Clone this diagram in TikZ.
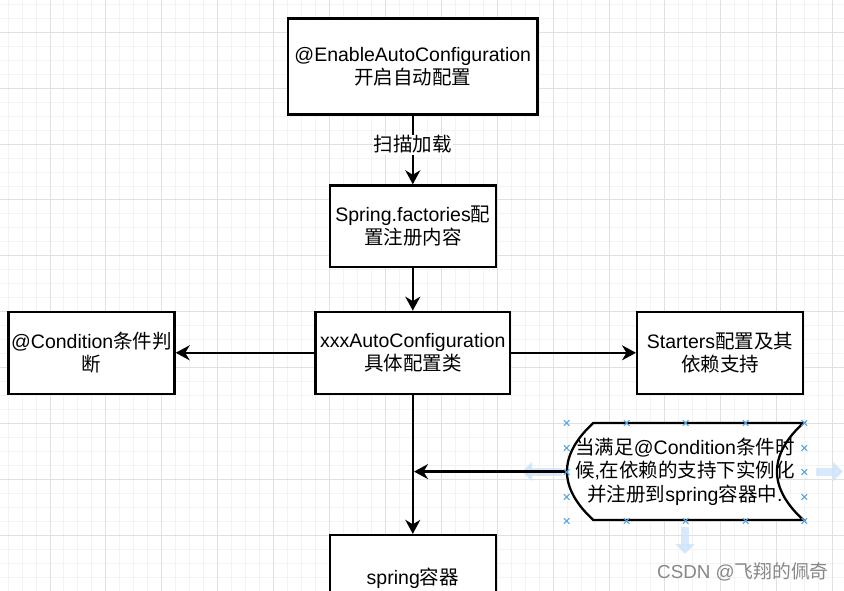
\documentclass[tikz,border=0pt]{standalone}
\usepackage{fontspec}
\setmainfont{Liberation Sans}
\newfontfamily\cjk{Noto Sans CJK SC}
\usetikzlibrary{arrows.meta}
\definecolor{minorgrid}{RGB}{243,243,243}
\definecolor{majorgrid}{RGB}{224,224,224}
\definecolor{handle}{RGB}{80,165,230}
\definecolor{hoverblue}{RGB}{205,228,250}
\definecolor{wmgray}{RGB}{135,135,135}
\tikzset{
  box/.style={draw=black, line width=2.3pt, fill=white, align=center, inner sep=2pt,
    font=\fontsize{19.5}{23.4}\selectfont},
  txt/.style={align=center, inner sep=0pt, font=\fontsize{19.5}{23.4}\selectfont},
  conn/.style={line width=2.3pt, -{Stealth[length=14pt,width=15pt,inset=4.5pt]}},
  lbl/.style={fill=white, inner sep=1pt, font=\fontsize{19.5}{23.4}\selectfont},
  hoverarrow/.style={line width=8pt, draw=hoverblue, opacity=0.8, -{Triangle[length=10pt,width=19pt]}},
  handlemark/.style={draw=handle, line width=1.1pt},
  wmk/.style={text=wmgray, inner sep=0pt, font=\fontsize{18.8}{22}\selectfont}
}
\begin{document}
\begin{tikzpicture}[x=1pt,y=-1pt]
\useasboundingbox (0,0) rectangle (844,591);
\clip (0,0) rectangle (844,591);
\fill[white] (0,0) rectangle (844,591);
% grid
\foreach \i in {0,...,64} {
  \draw[minorgrid, line width=1pt] (-5.9+13.975*\i,0) -- (-5.9+13.975*\i,591);
}
\foreach \j in {0,...,45} {
  \draw[minorgrid, line width=1pt] (0,-23.6+13.975*\j) -- (844,-23.6+13.975*\j);
}
\foreach \i in {0,...,16} {
  \draw[majorgrid, line width=1pt] (-5.9+55.9*\i,0) -- (-5.9+55.9*\i,591);
}
\foreach \j in {0,...,11} {
  \draw[majorgrid, line width=1pt] (0,-23.6+55.9*\j) -- (844,-23.6+55.9*\j);
}
% hover arrows
\draw[hoverarrow] (685,527) -- (685,554);
\draw[hoverarrow] (816,471.6) -- (843,471.6);
\draw[hoverarrow] (562,471.6) -- (522,471.6);

% boxes
\node[box, minimum width=249.3pt, minimum height=96.1pt] (top) at (412.8,66.5)
  {@EnableAutoConfiguration\\{\cjk 开启自动配置}};
\node[box, minimum width=166.1pt, minimum height=81.7pt] (sf) at (412.8,226.3)
  {Spring.factories{\cjk 配}\\{\cjk 置注册内容}};
\node[box, minimum width=194.7pt, minimum height=82pt] (xxx) at (412.8,352.8)
  {xxxAutoConfiguration\\{\cjk 具体配置类}};
\node[box, minimum width=166.1pt, minimum height=82pt] (cond) at (91.5,352.8)
  {@Condition{\cjk 条件判}\\{\cjk 断}};
\node[box, minimum width=165.7pt, minimum height=82pt] (start) at (720,352.8)
  {Starters{\cjk 配置及其}\\{\cjk 依赖支持}};
\node[box, minimum width=166.1pt, minimum height=86pt] (spring) at (412.8,578)
  {spring{\cjk 容器}};

% tape shape
\draw[line width=2.3pt, fill=white]
  (593.3,423) -- (803.3,423)
  .. controls (768.2,455.3) and (768.2,487.7) .. (803.3,520)
  -- (593.3,520)
  .. controls (558.2,487.7) and (558.2,455.3) .. (593.3,423) -- cycle;
\node[txt] (tape) at (685,471.6)
  {{\cjk 当满足}@Condition{\cjk 条件时}\\{\cjk 候},{\cjk 在依赖的支持下实例化}\\{\cjk 并注册到}spring{\cjk 容器中}.};
\coordinate (tapeW) at (567,471.6);
\coordinate (join) at (414,471.6);

% connectors
\draw[conn] (top) -- node[lbl, pos=0.42] (scan) {\cjk 扫描加载} (sf);
\draw[conn] (sf) -- (xxx);
\draw[conn] (xxx) -- (cond);
\draw[conn] (xxx) -- (start);
\draw[conn] (xxx) -- (spring);
\draw[conn] (tapeW) -- (join);

% selection handles
\foreach \x/\y in {566.7/423, 626.7/423, 685.7/423, 745.7/423, 804.3/423,
                   566.7/521, 626.7/521, 685.7/521, 745.7/521, 804.3/521,
                   566.7/448, 566.7/472, 566.7/497,
                   804.3/448, 804.3/472, 804.3/497} {
  \draw[handlemark] (\x-2.8,\y-2.8) -- (\x+2.8,\y+2.8) (\x-2.8,\y+2.8) -- (\x+2.8,\y-2.8);
}

% watermark
\node[wmk, anchor=west] (wm) at (657,571.5) {CSDN @{\cjk 飞翔的佩奇}};
\end{tikzpicture}
\end{document}
